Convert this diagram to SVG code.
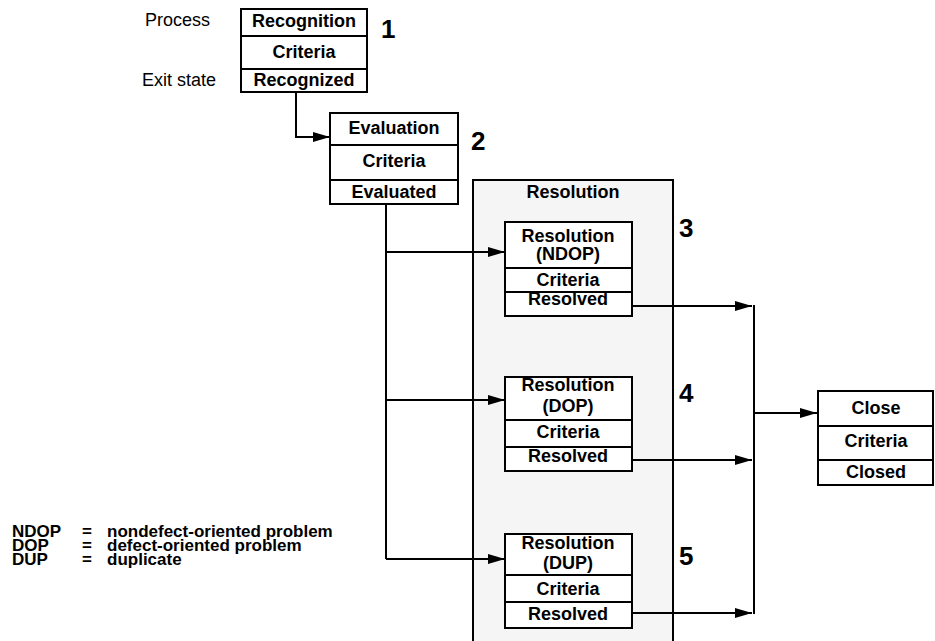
<svg xmlns="http://www.w3.org/2000/svg" width="935" height="641" viewBox="0 0 935 641">
<defs>
<marker id="arr" markerUnits="userSpaceOnUse" markerWidth="18" markerHeight="12" refX="17" refY="6" orient="auto">
<path d="M0,1 L17,6 L0,11 Z" fill="#000"/>
</marker>
</defs>
<style>
.box{fill:#fff;stroke:#000;stroke-width:2}
.div{stroke:#000;stroke-width:2}
.t{font-family:"Liberation Sans",Arial,sans-serif;font-size:18px;font-weight:bold;text-anchor:middle;fill:#000}
.lab{font-family:"Liberation Sans",Arial,sans-serif;font-size:18px;fill:#000}
.num{font-family:"Liberation Sans",Arial,sans-serif;font-size:26px;font-weight:bold;fill:#000}
.leg{font-family:"Liberation Sans",Arial,sans-serif;font-size:17px;font-weight:bold;fill:#000}
.ln{fill:none;stroke:#000;stroke-width:2}
</style>
<g id="resolution-group">
<rect x="473" y="180" width="200" height="470" fill="#f5f5f5" stroke="#000" stroke-width="2"/>
<text class="t" x="573" y="198">Resolution</text>
</g>
<g id="labels">
<text class="lab" x="145" y="26">Process</text>
<text class="lab" x="142" y="86">Exit state</text>
</g>
<g id="connectors">
<polyline class="ln" points="296,92 296,137 330,137" marker-end="url(#arr)"/>
<polyline class="ln" points="386,204 386,559"/>
<line class="ln" x1="386" y1="252" x2="505" y2="252" marker-end="url(#arr)"/>
<line class="ln" x1="386" y1="400" x2="505" y2="400" marker-end="url(#arr)"/>
<line class="ln" x1="386" y1="559" x2="505" y2="559" marker-end="url(#arr)"/>
<line class="ln" x1="632" y1="306" x2="752" y2="306" marker-end="url(#arr)"/>
<line class="ln" x1="632" y1="460" x2="752" y2="460" marker-end="url(#arr)"/>
<line class="ln" x1="632" y1="613" x2="752" y2="613" marker-end="url(#arr)"/>
<line class="ln" x1="754" y1="305" x2="754" y2="614"/>
<line class="ln" x1="754" y1="413" x2="817" y2="413" marker-end="url(#arr)"/>
</g>
<g id="recognition">
<rect class="box" x="241" y="9" width="126" height="83"/>
<line class="div" x1="241" y1="36" x2="367" y2="36"/>
<line class="div" x1="241" y1="69" x2="367" y2="69"/>
<text class="t" x="304" y="27">Recognition</text>
<text class="t" x="304" y="58">Criteria</text>
<text class="t" x="304" y="86">Recognized</text>
<text class="num" x="381" y="38">1</text>
</g>
<g id="evaluation">
<rect class="box" x="330" y="113" width="128" height="91"/>
<line class="div" x1="330" y1="145" x2="458" y2="145"/>
<line class="div" x1="330" y1="180" x2="458" y2="180"/>
<text class="t" x="394" y="134">Evaluation</text>
<text class="t" x="394" y="167">Criteria</text>
<text class="t" x="394" y="198">Evaluated</text>
<text class="num" x="471" y="150">2</text>
</g>
<g id="res-ndop">
<rect class="box" x="505" y="222" width="127" height="94"/>
<line class="div" x1="505" y1="268" x2="632" y2="268"/>
<line class="div" x1="505" y1="292" x2="632" y2="292"/>
<text class="t" x="568" y="242">Resolution</text>
<text class="t" x="568" y="260">(NDOP)</text>
<text class="t" x="568" y="286">Criteria</text>
<text class="t" x="568" y="305">Resolved</text>
<text class="num" x="679" y="237">3</text>
</g>
<g id="res-dop">
<rect class="box" x="505" y="377" width="127" height="94"/>
<line class="div" x1="505" y1="420" x2="632" y2="420"/>
<line class="div" x1="505" y1="447" x2="632" y2="447"/>
<text class="t" x="568" y="391">Resolution</text>
<text class="t" x="568" y="412">(DOP)</text>
<text class="t" x="568" y="438">Criteria</text>
<text class="t" x="568" y="462">Resolved</text>
<text class="num" x="679" y="402">4</text>
</g>
<g id="res-dup">
<rect class="box" x="505" y="534" width="127" height="94"/>
<line class="div" x1="505" y1="575" x2="632" y2="575"/>
<line class="div" x1="505" y1="602" x2="632" y2="602"/>
<text class="t" x="568" y="549">Resolution</text>
<text class="t" x="568" y="569">(DUP)</text>
<text class="t" x="568" y="595">Criteria</text>
<text class="t" x="568" y="620">Resolved</text>
<text class="num" x="679" y="565">5</text>
</g>
<g id="close">
<rect class="box" x="818" y="391" width="115" height="94"/>
<line class="div" x1="818" y1="426" x2="933" y2="426"/>
<line class="div" x1="818" y1="460" x2="933" y2="460"/>
<text class="t" x="876" y="414">Close</text>
<text class="t" x="876" y="447">Criteria</text>
<text class="t" x="876" y="478">Closed</text>
</g>
<g id="legend">
<text class="leg" x="12" y="537">NDOP</text>
<text class="leg" x="82" y="537">=</text>
<text class="leg" x="107" y="537">nondefect-oriented problem</text>
<text class="leg" x="12" y="551">DOP</text>
<text class="leg" x="82" y="551">=</text>
<text class="leg" x="107" y="551">defect-oriented problem</text>
<text class="leg" x="12" y="565">DUP</text>
<text class="leg" x="82" y="565">=</text>
<text class="leg" x="107" y="565">duplicate</text>
</g>
</svg>
